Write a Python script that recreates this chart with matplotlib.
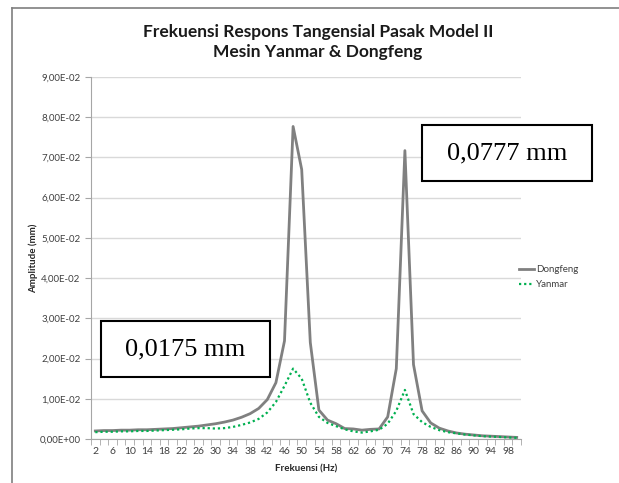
import numpy as np
import matplotlib
matplotlib.use("Agg")
import matplotlib.pyplot as plt
from matplotlib.patches import Rectangle
from matplotlib.lines import Line2D
from matplotlib.ticker import FuncFormatter, FixedLocator

# frequency (Hz), categories 2..100
freq = list(range(2, 101, 2))

# amplitude in units of 1e-2 mm
dongfeng = [0.20, 0.21, 0.21, 0.22, 0.22, 0.23, 0.23, 0.24, 0.25, 0.26,
            0.28, 0.30, 0.32, 0.35, 0.38, 0.42, 0.47, 0.54, 0.63, 0.76,
            0.98, 1.40, 2.44, 7.77, 6.70, 2.40, 0.72, 0.47, 0.38, 0.26,
            0.25, 0.22, 0.24, 0.25, 0.55, 1.75, 7.17, 1.85, 0.70, 0.40,
            0.27, 0.20, 0.15, 0.12, 0.10, 0.08, 0.07, 0.06, 0.05, 0.04]
yanmar = [0.17, 0.18, 0.18, 0.19, 0.19, 0.20, 0.20, 0.21, 0.22, 0.23,
          0.24, 0.26, 0.27, 0.27, 0.26, 0.27, 0.30, 0.35, 0.41, 0.50,
          0.66, 0.92, 1.32, 1.75, 1.50, 0.90, 0.55, 0.40, 0.32, 0.24,
          0.19, 0.16, 0.19, 0.23, 0.38, 0.70, 1.22, 0.62, 0.42, 0.30,
          0.22, 0.17, 0.14, 0.11, 0.09, 0.07, 0.06, 0.05, 0.04, 0.03]

title = "Frekuensi Respons Tangensial Pasak Model II\nMesin Yanmar & Dongfeng"
note_left = "0,0175 mm"
note_right = "0,0777 mm"

plt.rcParams["font.family"] = ["Lato", "DejaVu Sans"]

W, H = 619, 483
fig = plt.figure(figsize=(W / 100, H / 100), dpi=100)
ax = fig.add_axes([91 / W, 1 - 439 / H, 430 / W, 362 / H])

x = np.arange(len(freq))
d = np.array(dongfeng) * 1e-2
y = np.array(yanmar) * 1e-2

ax.plot(x, d, color="#808080", lw=2.0, label="Dongfeng", zorder=3)
ax.plot(x, y, color="#00b050", lw=1.6, ls=(0, (1, 1.3)), label="Yanmar", zorder=4)

ax.set_xlim(-0.5, len(freq) - 0.5)
ax.set_ylim(0, 0.09)
ax.set_yticks(np.arange(0, 0.0901, 0.01))
ax.yaxis.set_major_formatter(FuncFormatter(lambda v, p: ("%.2E" % v).replace(".", ",")))
ax.set_xticks(x[::2])
ax.set_xticklabels([str(f) for f in freq[::2]])
ax.xaxis.set_minor_locator(FixedLocator(np.arange(-0.5, len(freq), 1)))
ax.tick_params(axis="x", which="major", length=0, labelsize=7.5, colors="#404040", pad=6)
ax.tick_params(axis="x", which="minor", length=4, color="#a6a6a6")
ax.tick_params(axis="y", length=4, color="#a6a6a6", labelsize=7, labelcolor="#404040")

ax.grid(axis="y", color="#d9d9d9", lw=1)
ax.set_axisbelow(True)
for s in ["top", "right"]:
    ax.spines[s].set_visible(False)
ax.spines["left"].set_color("#a6a6a6")
ax.spines["bottom"].set_color("#a6a6a6")

ax.set_xlabel("Frekuensi (Hz)", fontsize=7, fontweight="bold", color="#262626", labelpad=6)
ax.set_ylabel("Amplitude (mm)", fontsize=7, fontweight="bold", color="#262626", labelpad=1)

fig.text(318 / W, 1 - 42 / H, title, ha="center", va="center", fontsize=12.5,
         fontweight="bold", color="#1a1a1a", linespacing=1.25)

fig.legend(loc="center left", bbox_to_anchor=(510 / W, 1 - 277 / H), frameon=False,
           fontsize=7, handlelength=1.6, handletextpad=0.2, labelspacing=0.6,
           labelcolor="#404040")

# annotation boxes
for (x0, y0, x1, y1), txt in [((101, 321, 270, 377), note_left),
                              ((422, 125, 592, 181), note_right)]:
    fig.add_artist(Rectangle((x0 / W, 1 - y1 / H), (x1 - x0) / W, (y1 - y0) / H,
                             transform=fig.transFigure, facecolor="white",
                             edgecolor="black", lw=1.5, zorder=10))
    fig.text((x0 + x1) / 2 / W, 1 - (y0 + y1) / 2 / H, txt, ha="center", va="center",
             fontsize=19, family="Liberation Serif", zorder=11)

# outer frame of the chart area
fig.add_artist(Line2D([12 / W, 12 / W], [0, 1 - 8 / H], color="#7f7f7f", lw=1.2))
fig.add_artist(Line2D([12 / W, 1], [1 - 8 / H, 1 - 8 / H], color="#7f7f7f", lw=1.2))

fig.savefig("out.png", dpi=100)
